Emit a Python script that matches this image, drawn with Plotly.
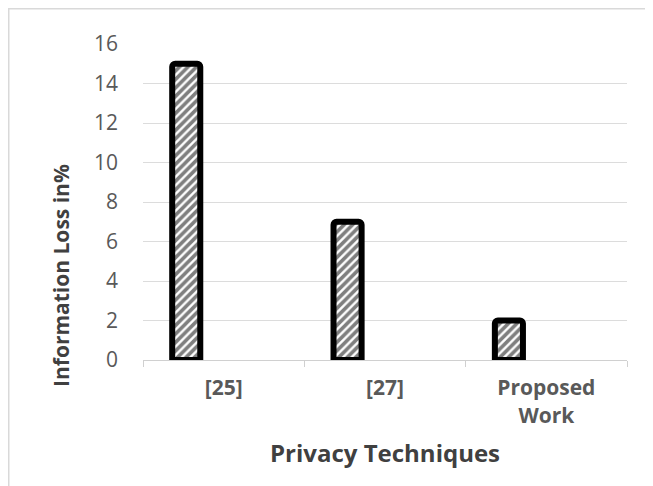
import plotly.graph_objects as go

categories = ["[25]", "[27]", "Proposed<br>Work"]
info_loss = [15, 7, 2]
y_ticks = [0, 2, 4, 6, 8, 10, 12, 14, 16]
x_title = "Privacy Techniques"
y_title = "Information Loss in%"

W, H = 653, 486
ML, MR, MT, MB = 135, 34, 36, 134
PW, PH = W - ML - MR, H - MT - MB

fig = go.Figure()
fig.add_trace(go.Bar(
    x=categories,
    y=info_loss,
    width=0.174,
    offset=-0.319,
    marker=dict(
        color="white",
        line=dict(color="black", width=6),
        pattern=dict(shape="/", fgcolor="black", bgcolor="white", size=6, solidity=0.6),
        cornerradius=3,
    ),
    showlegend=False,
))

font_family = "Open Sans, Liberation Sans, sans-serif"

fig.update_layout(
    width=W,
    height=H,
    paper_bgcolor="white",
    plot_bgcolor="white",
    margin=dict(l=ML, r=MR, t=MT, b=MB),
    font=dict(family=font_family, color="#595959", size=20),
    xaxis=dict(
        type="category",
        tickson="boundaries",
        ticks="outside",
        ticklen=6,
        tickcolor="#d0d0d0",
        showline=True,
        linecolor="#d0d0d0",
        linewidth=1,
        ticklabelstandoff=9,
        tickfont=dict(family=font_family, size=21, color="#595959", weight="bold"),
        showgrid=False,
    ),
    yaxis=dict(
        range=[0, 16],
        tickvals=y_ticks,
        showgrid=True,
        gridcolor="#dcdcdc",
        gridwidth=1,
        zeroline=False,
        showline=False,
        ticks="",
        ticklabelstandoff=24,
        tickfont=dict(family=font_family, size=21, color="#595959"),
    ),
    annotations=[
        dict(text=y_title, xref="paper", yref="paper",
             x=(61 - 8 - ML) / PW, y=1 - (276 - 8 - MT) / PH,
             xanchor="center", yanchor="middle", textangle=-90, showarrow=False,
             font=dict(family=font_family, size=21, color="#404040", weight="bold")),
        dict(text=x_title, xref="paper", yref="paper",
             x=0.5, y=1 - (452 - 8 - MT) / PH,
             xanchor="center", yanchor="middle", showarrow=False,
             font=dict(family=font_family, size=24, color="#404040", weight="bold")),
    ],
    shapes=[dict(type="rect", xref="paper", yref="paper",
                 x0=(0.75 - ML) / PW, x1=1.3, y0=-0.6, y1=1 + (MT - 0.75) / PH,
                 line=dict(color="#d9d9d9", width=1.5), layer="below")],
)

fig.write_html("out.html")
